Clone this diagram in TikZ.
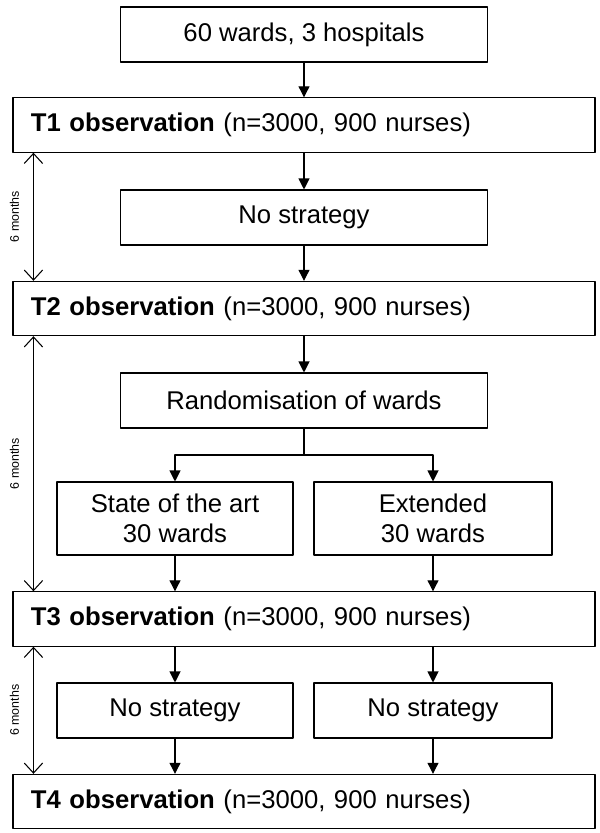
\documentclass[tikz,border=0pt]{standalone}
\usepackage{fontspec}
\setmainfont{Liberation Sans}
\usetikzlibrary{arrows.meta}
\begin{document}
\begin{tikzpicture}[x=0.03cm, y=-0.03cm, line width=0.9pt, line join=round,
	font=\fontsize{21.9}{25.5}\selectfont,
	box/.style={draw, minimum height=1.65cm, align=center, inner sep=0pt},
	obsbox/.style={draw, minimum height=1.63cm, text width=16.38cm, inner xsep=0.54cm, align=left},
	flow/.style={-{Triangle[length=0.33cm, width=0.33cm]}},
	span/.style={{Straight Barb[length=0.3cm, width=0.55cm]}-{Straight Barb[length=0.3cm, width=0.55cm]}},
	months/.style={midway, font=\fontsize{10.6}{12}\selectfont, rotate=90, above=0.3cm}]
	\useasboundingbox (0,0) rectangle (600,833);
	% boxes
	\node[box, minimum width=11.01cm] (wards) at (304,34.5) {60 wards, 3 hospitals};
	\node[obsbox] (t1) at (304,125) {\textbf{T1 observation} (n=3000, 900 nurses)};
	\node[box, minimum width=11.01cm] (none) at (304,217.5) {No strategy};
	\node[obsbox] (t2) at (304,308.5) {\textbf{T2 observation} (n=3000, 900 nurses)};
	\node[box, minimum width=11.01cm] (rand) at (304,400.5) {Randomisation of wards};
	\node[box, minimum width=7.08cm, minimum height=2.19cm] (art) at (175,518.5) {State of the art\\30 wards};
	\node[box, minimum width=7.14cm, minimum height=2.19cm] (ext) at (433,518.5) {Extended\\30 wards};
	\node[obsbox] (t3) at (304,619) {\textbf{T3 observation} (n=3000, 900 nurses)};
	\node[box, minimum width=7.08cm] (noneA) at (175,710.5) {No strategy};
	\node[box, minimum width=7.14cm] (noneB) at (433,710.5) {No strategy};
	\node[obsbox] (t4) at (304,801.5) {\textbf{T4 observation} (n=3000, 900 nurses)};
	\coordinate (split) at (304,455);
	% flow
	\draw[flow] (wards) -- (t1);
	\draw[flow] (t1) -- (none);
	\draw[flow] (none) -- (t2);
	\draw[flow] (t2) -- (rand);
	\draw (rand) -- (split);
	\draw[flow] (split) -| (art);
	\draw[flow] (split) -| (ext);
	\draw[flow] (art) -- (art |- t3.north);
	\draw[flow] (ext) -- (ext |- t3.north);
	\draw[flow] (t3.south -| noneA) -- (noneA);
	\draw[flow] (t3.south -| noneB) -- (noneB);
	\draw[flow] (noneA) -- (noneA |- t4.north);
	\draw[flow] (noneB) -- (noneB |- t4.north);
	% time between observations
	\draw[span] ([xshift=0.63cm]t1.south west) -- ([xshift=0.63cm]t2.north west) node[months]{6 months};
	\draw[span] ([xshift=0.63cm]t2.south west) -- ([xshift=0.63cm]t3.north west) node[months]{6 months};
	\draw[span] ([xshift=0.63cm]t3.south west) -- ([xshift=0.63cm]t4.north west) node[months]{6 months};
\end{tikzpicture}
\end{document}
